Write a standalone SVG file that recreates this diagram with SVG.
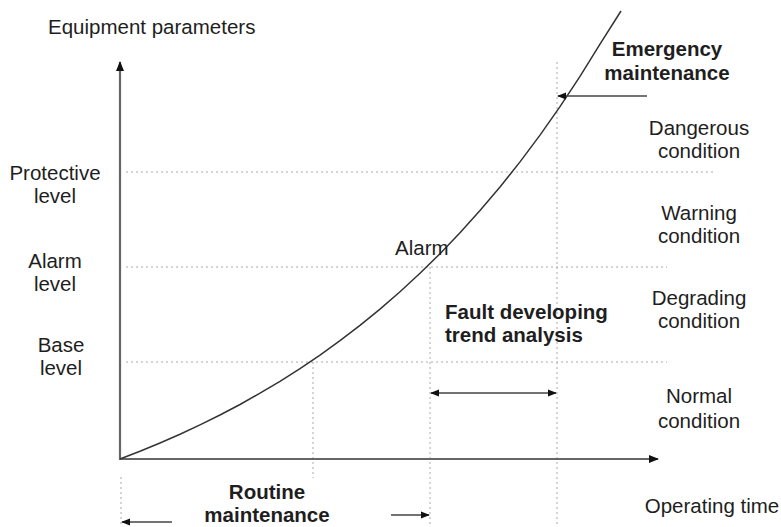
<svg xmlns="http://www.w3.org/2000/svg" width="781" height="527" viewBox="0 0 781 527">
  <style>
    text { font-family: "Liberation Sans", Arial, sans-serif; font-size: 20.5px; fill: #1e1e1e; }
    .b { font-weight: bold; }
    .c { text-anchor: middle; }
    .axis { stroke: #666; stroke-width: 2.2; fill: none; }
    .grid { stroke: #aaa; stroke-width: 1; stroke-dasharray: 2 3; fill: none; }
    .curve { stroke: #333; stroke-width: 1.5; fill: none; }
    .arr { stroke: #444; stroke-width: 1.6; fill: none; }
  </style>
  <defs>
    <marker id="head" viewBox="0 0 10 10" refX="9" refY="5" markerWidth="9" markerHeight="9" markerUnits="userSpaceOnUse" orient="auto-start-reverse">
      <path d="M0,1 L10,5 L0,9 Z" fill="#111"/>
    </marker>
    <marker id="headBig" viewBox="0 0 10 10" refX="9" refY="5" markerWidth="11" markerHeight="10" markerUnits="userSpaceOnUse" orient="auto-start-reverse">
      <path d="M0,1 L10,5 L0,9 Z" fill="#111"/>
    </marker>
  </defs>

  <!-- level and time guide lines -->
  <g id="guides">
    <line class="grid" x1="126" y1="172" x2="713" y2="172"/>
    <line class="grid" x1="126" y1="267" x2="667" y2="267"/>
    <line class="grid" x1="126" y1="362" x2="667" y2="362"/>
    <line class="grid" x1="313" y1="362" x2="313" y2="478"/>
    <line class="grid" x1="430" y1="267" x2="430" y2="527"/>
    <line class="grid" x1="557" y1="62" x2="557" y2="527"/>
    <line class="grid" x1="121" y1="477" x2="121" y2="527"/>
  </g>

  <!-- axes -->
  <g id="axes">
    <line class="axis" x1="120" y1="460" x2="120" y2="62" marker-end="url(#headBig)"/>
    <line class="axis" x1="119" y1="459" x2="658" y2="459" marker-end="url(#headBig)"/>
  </g>

  <!-- condition growth curve -->
  <g id="curve">
    <polyline class="curve" points="120,459 140,451.3 160,443 180,434.3 200,424.9 220,415 240,404.5 260,393.2 280,381.3 300,368.6 320,355.1 340,340.7 360,325.4 380,309.1 400,291.8 420,273.3 440,253.7 460,232.8 480,210.6 500,187 520,161.9 540,135.1 560,106.7 580,76.4 600,44.2 621,11"/>
  </g>

  <!-- connectors -->
  <g id="connectors">
    <line class="arr" x1="647" y1="96" x2="558" y2="96" marker-end="url(#head)"/>
    <line class="arr" x1="431" y1="393" x2="556" y2="393" marker-start="url(#head)" marker-end="url(#head)"/>
    <line class="arr" x1="172" y1="522" x2="122" y2="522" marker-end="url(#head)"/>
    <line class="arr" x1="391" y1="515" x2="429" y2="515" marker-end="url(#head)"/>
  </g>

  <g id="y-label"><text x="48" y="34">Equipment parameters</text></g>
  <g id="x-label"><text class="c" x="712" y="513">Operating time</text></g>

  <g id="protective-level"><text class="c" x="55" y="180">Protective</text><text class="c" x="55" y="203">level</text></g>
  <g id="alarm-level"><text class="c" x="55" y="268">Alarm</text><text class="c" x="55" y="291">level</text></g>
  <g id="base-level"><text class="c" x="61" y="352">Base</text><text class="c" x="61" y="375">level</text></g>

  <g id="alarm-point"><text x="395" y="255">Alarm</text></g>

  <g id="emergency"><text class="b c" x="667" y="56">Emergency</text><text class="b c" x="667" y="80">maintenance</text></g>
  <g id="dangerous"><text class="c" x="699" y="135">Dangerous</text><text class="c" x="699" y="158">condition</text></g>
  <g id="warning"><text class="c" x="699" y="220">Warning</text><text class="c" x="699" y="243">condition</text></g>
  <g id="degrading"><text class="c" x="699" y="305">Degrading</text><text class="c" x="699" y="328">condition</text></g>
  <g id="normal"><text class="c" x="699" y="403">Normal</text><text class="c" x="699" y="428">condition</text></g>

  <g id="fault-trend"><text class="b" x="445" y="319">Fault developing</text><text class="b" x="445" y="342">trend analysis</text></g>
  <g id="routine"><text class="b c" x="267" y="499">Routine</text><text class="b c" x="267" y="522">maintenance</text></g>
</svg>
